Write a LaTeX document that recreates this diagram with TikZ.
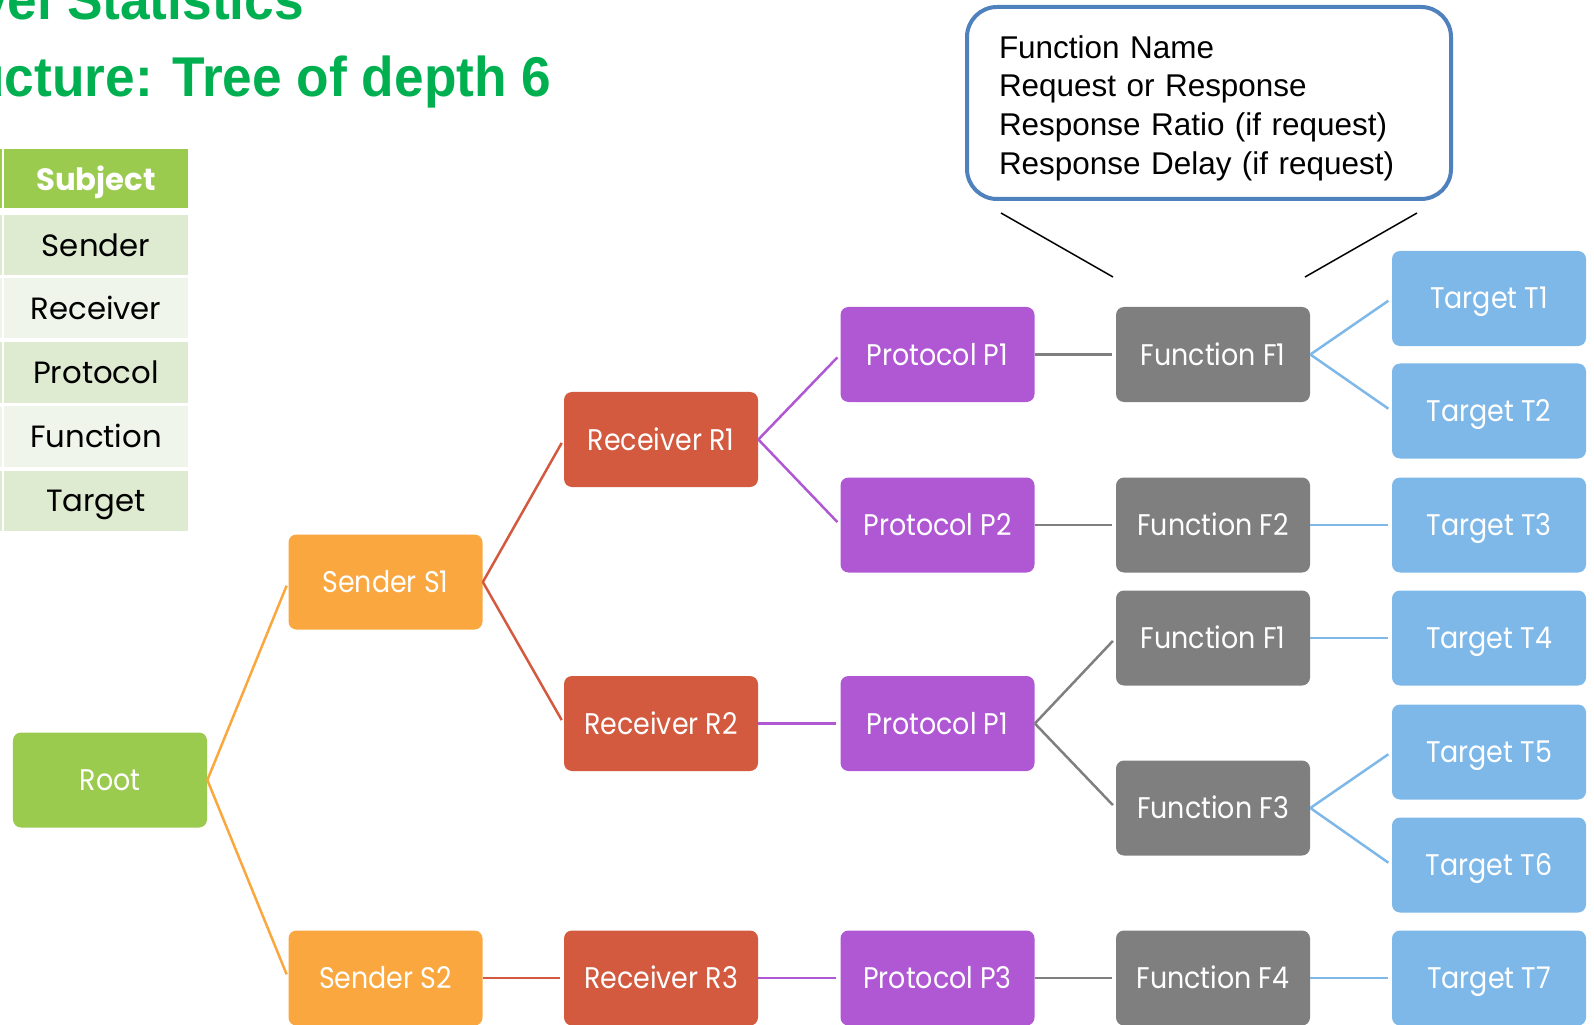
\documentclass[tikz,border=0pt]{standalone}
\usepackage{fontspec}
\setmainfont{Liberation Sans}
\newfontfamily\boxfont[FakeStretch=0.9]{Poppins}
\newfontfamily\cellfont{Poppins}
\newfontfamily\titlefont[FakeStretch=0.95]{Liberation Sans}
\usetikzlibrary{positioning}
\definecolor{rootgreen}{HTML}{9BCB4E}
\definecolor{sendorange}{HTML}{F9A73E}
\definecolor{recvred}{HTML}{D35A3F}
\definecolor{protpurple}{HTML}{B058D4}
\definecolor{funcgray}{HTML}{7F7F7F}
\definecolor{targblue}{HTML}{7EB8E8}
\definecolor{titlegreen}{HTML}{00B050}
\definecolor{cellA}{HTML}{DEEBD1}
\definecolor{cellB}{HTML}{EFF5EA}
\definecolor{calloutblue}{HTML}{4F81BD}

\begin{document}
\begin{tikzpicture}[x=0.2mm,y=-0.2mm,
    box/.style={rounded corners=1.6mm,minimum width=38.8mm,minimum height=19mm,inner sep=0pt,text height=4.2mm,text depth=0mm,text=white,font=\boxfont\fontsize{17}{20}\selectfont},
    rootbox/.style={box,fill=rootgreen},
    sendbox/.style={box,fill=sendorange},
    recvbox/.style={box,fill=recvred},
    protbox/.style={box,fill=protpurple},
    funcbox/.style={box,fill=funcgray},
    targbox/.style={box,fill=targblue},
    link/.style={line width=0.5mm,shorten >=0.8mm},
    cell/.style={minimum width=36.8mm,minimum height=12mm,inner sep=0pt,text height=4.3mm,text depth=0mm,font=\cellfont\fontsize{17.5}{21}\selectfont},
    titletext/.style={anchor=base west,inner sep=0pt,text=titlegreen,font=\titlefont\bfseries\fontsize{31.9}{38}\selectfont}]
\useasboundingbox (0,0) rectangle (1594,1025);
\clip (0,0) rectangle (1594,1025);

\node[titletext] (title1) at (-22,20) {vel Statistics};
\node[titletext] (title2) at (-28,97) {ucture: Tree of depth 6};

\fill[rootgreen] (-10,149) rectangle (2,208);
\node[cell,fill=rootgreen,text=white,minimum height=11.8mm,text height=5mm,font=\cellfont\bfseries\fontsize{17.5}{21}\selectfont] (subject) at (96,178.5) {Subject};
\foreach \name/\txt/\y/\col in {sender/Sender/245.5/cellA,receiver/Receiver/308.5/cellB,protocol/Protocol/372.5/cellA,function/Function/436.5/cellB,target/Target/500.5/cellA}{
  \fill[\col] (-10,\y-30) rectangle (2,\y+30);
  \node[cell,fill=\col] (\name) at (96,\y) {\txt};
}

\draw[calloutblue,line width=0.8mm,rounded corners=6mm] (967,7) rectangle (1451,199);
\node[text width=84mm,align=left,inner sep=0pt,font=\fontsize{17.9}{22}\selectfont] (callout) at (1209,108) {Function Name\\Request or Response\\Response Ratio (if request)\\Response Delay (if request)};
\coordinate (cl1) at (1001,213);
\coordinate (cl2) at (1113,277);
\coordinate (cr1) at (1417,213);
\coordinate (cr2) at (1305,277);
\draw[line width=0.3mm] (cl1) -- (cl2);
\draw[line width=0.3mm] (cr1) -- (cr2);

\node[rootbox] (root) at (110,780) {Root};
\node[sendbox] (s1) at (385.5,582) {Sender S1};
\node[sendbox] (s2) at (385.5,978) {Sender S2};
\node[recvbox] (r1) at (661,439.5) {Receiver R1};
\node[recvbox] (r2) at (661,723.5) {Receiver R2};
\node[recvbox] (r3) at (661,978) {Receiver R3};
\node[protbox] (p1) at (937.5,354.5) {Protocol P1};
\node[protbox] (p2) at (937.5,525) {Protocol P2};
\node[protbox] (p1b) at (937.5,723.5) {Protocol P1};
\node[protbox] (p3) at (937.5,978) {Protocol P3};
\node[funcbox] (f1) at (1213,354.5) {Function F1};
\node[funcbox] (f2) at (1213,525) {Function F2};
\node[funcbox] (f1b) at (1213,638) {Function F1};
\node[funcbox] (f3) at (1213,808) {Function F3};
\node[funcbox] (f4) at (1213,978) {Function F4};
\node[targbox] (t1) at (1489,298.5) {Target T1};
\node[targbox] (t2) at (1489,411) {Target T2};
\node[targbox] (t3) at (1489,525) {Target T3};
\node[targbox] (t4) at (1489,638) {Target T4};
\node[targbox] (t5) at (1489,752) {Target T5};
\node[targbox] (t6) at (1489,865) {Target T6};
\node[targbox] (t7) at (1489,978) {Target T7};

\draw[link,sendorange] (root.east) -- (s1.west);
\draw[link,sendorange] (root.east) -- (s2.west);
\draw[link,recvred] (s1.east) -- (r1.west);
\draw[link,recvred] (s1.east) -- (r2.west);
\draw[link,recvred] (s2.east) -- (r3.west);
\draw[link,protpurple] (r1.east) -- (p1.west);
\draw[link,protpurple] (r1.east) -- (p2.west);
\draw[link,protpurple] (r2.east) -- (p1b.west);
\draw[link,protpurple] (r3.east) -- (p3.west);
\draw[link,funcgray] (p1.east) -- (f1.west);
\draw[link,funcgray] (p2.east) -- (f2.west);
\draw[link,funcgray] (p1b.east) -- (f1b.west);
\draw[link,funcgray] (p1b.east) -- (f3.west);
\draw[link,funcgray] (p3.east) -- (f4.west);
\draw[link,targblue] (f1.east) -- (t1.west);
\draw[link,targblue] (f1.east) -- (t2.west);
\draw[link,targblue] (f2.east) -- (t3.west);
\draw[link,targblue] (f1b.east) -- (t4.west);
\draw[link,targblue] (f3.east) -- (t5.west);
\draw[link,targblue] (f3.east) -- (t6.west);
\draw[link,targblue] (f4.east) -- (t7.west);
\end{tikzpicture}
\end{document}
